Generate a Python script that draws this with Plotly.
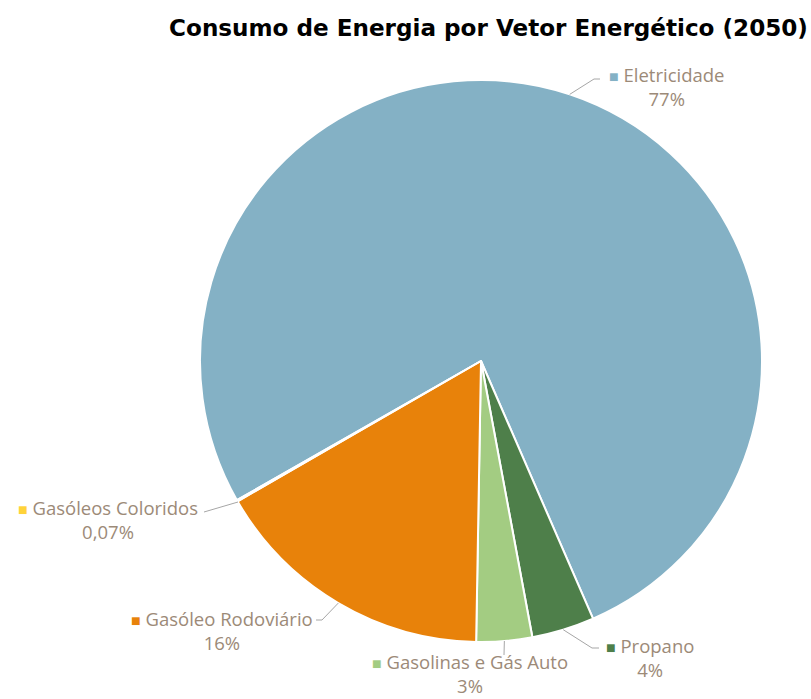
import math
import plotly.graph_objects as go

# ---- data ----
labels = ["Eletricidade", "Propano", "Gasolinas e Gás Auto", "Gasóleo Rodoviário", "Gasóleos Coloridos"]
values = [76.7, 3.6, 3.2, 16.4, 0.07]
pct_text = ["77%", "4%", "3%", "16%", "0,07%"]
colors = ["#84B1C5", "#4E7F4A", "#A3CC82", "#E8820A", "#FFD33A"]

W, H = 811, 699
CX, CY, R = 481, 361, 281
ROT = 240.3
TEXT_COL = "#9C8A78"
LINE_COL = "#A6A6A6"
FONT = "Open Sans"


def px(x):
    return x / W


def py(y):
    return 1 - y / H


fig = go.Figure()
fig.add_trace(go.Pie(
    labels=labels, values=values, sort=False, direction="clockwise",
    rotation=ROT, textinfo="none", hoverinfo="label+percent",
    marker=dict(colors=colors, line=dict(color="white", width=2)),
    domain=dict(x=[px(CX - R), px(CX + R)], y=[py(CY + R), py(CY - R)]),
    showlegend=False,
))

# label anchor (px), anchor side, and leader-line elbow/end (px)
label_pos = [(608, 87, "left"), (605, 657, "left"), (470, 673, "center"),
             (314, 630, "right"), (199, 519, "right")]
elbows = [((594, 79), (600, 79)), ((592, 648), (599, 648)), ((504, 655), (504, 655)),
          ((322, 620), (316, 620)), ((238, 502), (204, 512))]

total = sum(values)
cum = 0.0
shapes = []
annotations = []
for i, v in enumerate(values):
    mid = ROT + (cum + v / 2) / total * 360
    cum += v
    a = math.radians(mid)
    sx = CX + R * math.sin(a)
    sy = CY - R * math.cos(a)
    (ex, ey), (fx, fy) = elbows[i]
    if i == 4:
        sx, sy = ex, ey
    pts = [(sx, sy), (ex, ey), (fx, fy)]
    for (x0, y0), (x1, y1) in zip(pts[:-1], pts[1:]):
        if (x0, y0) != (x1, y1):
            shapes.append(dict(type="line", xref="paper", yref="paper",
                               x0=px(x0), y0=py(y0), x1=px(x1), y1=py(y1),
                               line=dict(color=LINE_COL, width=1)))
    lx, ly, anc = label_pos[i]
    txt = (f"<span style='color:{colors[i]};font-size:16px'>■</span> {labels[i]}"
           f"<br>{pct_text[i]}")
    annotations.append(dict(x=px(lx), y=py(ly), xref="paper", yref="paper",
                            text=txt, showarrow=False, align="center",
                            xanchor=anc, yanchor="middle", borderpad=0,
                            font=dict(family=FONT, size=18.5, color=TEXT_COL)))

fig.update_layout(
    width=W, height=H,
    margin=dict(l=0, r=0, t=0, b=0),
    paper_bgcolor="white", plot_bgcolor="white",
    title=dict(text="<b>Consumo de Energia por Vetor Energético (2050)</b>",
               x=px(488.5), xanchor="center", y=py(28), yanchor="middle",
               font=dict(family="DejaVu Sans", size=23.1, color="black")),
    shapes=shapes, annotations=annotations,
)

fig.write_html("out.html", config={"displayModeBar": False},
               post_script="document.body.style.margin='0';document.body.style.overflow='hidden';")
